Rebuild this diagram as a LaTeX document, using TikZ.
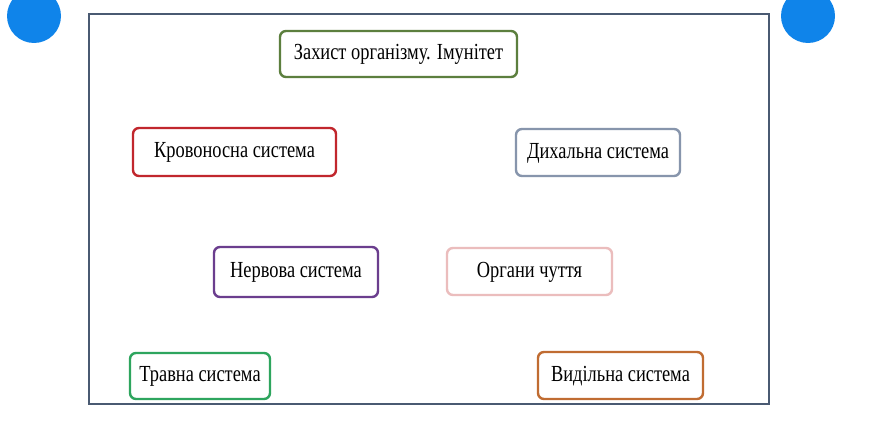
\documentclass[tikz,border=0pt]{standalone}
\usepackage{fontspec}
\setmainfont{Liberation Serif}[FakeStretch=0.8]
\definecolor{frameC}{HTML}{4A5A72}
\definecolor{dotC}{HTML}{0F84EA}
\definecolor{c1}{HTML}{5C7F3E}
\definecolor{c2}{HTML}{C1272D}
\definecolor{c3}{HTML}{8795AC}
\definecolor{c4}{HTML}{6B3E8E}
\definecolor{c5}{HTML}{EBBDBD}
\definecolor{c6}{HTML}{2EA55E}
\definecolor{c7}{HTML}{C06C32}
\tikzset{
  organbox/.style={draw=#1, line width=2.4pt, rounded corners=6pt, fill=white,
    font=\fontsize{23}{25}\selectfont, inner sep=0pt, anchor=center,
    text height=13pt, text depth=2pt},
}
\begin{document}
\begin{tikzpicture}[x=1pt,y=-1pt]
\useasboundingbox (0,0) rectangle (890,444);
\fill[white] (0,0) rectangle (890,444);
\draw[frameC, line width=1.8pt] (89,14) rectangle (769,404);
\fill[dotC] (34,16) circle (27);
\fill[dotC] (808,16) circle (27);
\node[organbox=c1, minimum width=237pt, minimum height=46pt] (imm) at (398.5,54) {Захист організму. Імунітет};
\node[organbox=c2, minimum width=203pt, minimum height=48pt] (blood) at (234.5,152) {Кровоносна система};
\node[organbox=c3, minimum width=164pt, minimum height=47pt] (resp) at (598,152.5) {Дихальна система};
\node[organbox=c4, minimum width=164pt, minimum height=50pt] (nerv) at (296,272) {Нервова система};
\node[organbox=c5, minimum width=165pt, minimum height=47pt] (sense) at (529.5,271.5) {Органи чуття};
\node[organbox=c6, minimum width=140pt, minimum height=46pt] (dig) at (200,376) {Травна система};
\node[organbox=c7, minimum width=165pt, minimum height=47pt] (excr) at (620.5,375.5) {Видільна система};
\end{tikzpicture}
\end{document}
